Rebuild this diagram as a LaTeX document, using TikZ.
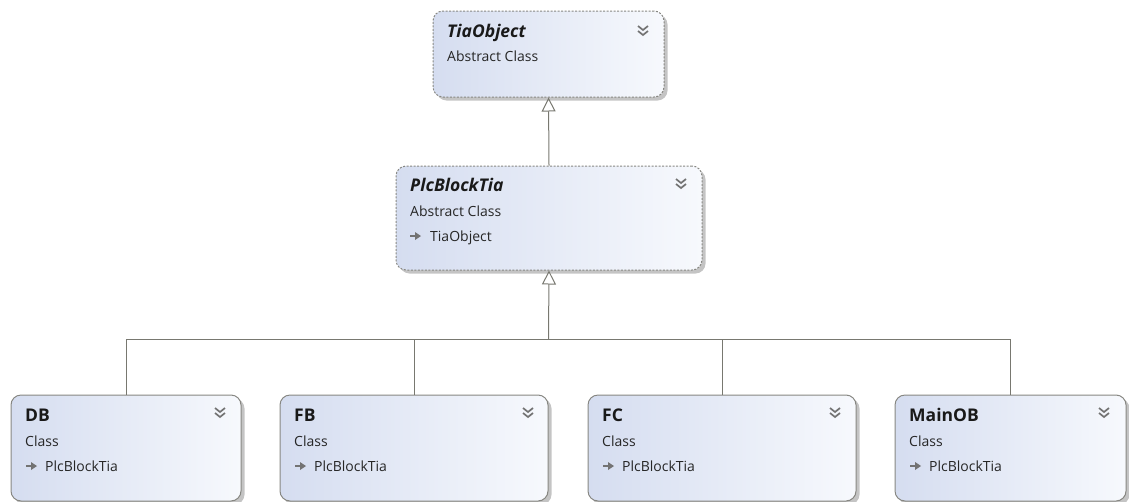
\documentclass[tikz,border=0pt]{standalone}
\usepackage{fontspec}
\setmainfont{Open Sans}
\usetikzlibrary{arrows.meta,shadows}
\definecolor{boxleft}{RGB}{213,221,240}
\definecolor{boxright}{RGB}{247,249,253}
\definecolor{boxline}{RGB}{135,135,130}
\definecolor{conn}{RGB}{120,120,112}
\definecolor{shade}{RGB}{196,196,196}
\definecolor{icon}{RGB}{115,115,115}
\tikzset{
  classbox/.style={draw=boxline, line width=1pt, rounded corners=10pt,
    left color=boxleft, right color=boxright, shading angle=90,
    general shadow={fill=shade, shadow xshift=3.5pt, shadow yshift=-3.5pt},
    minimum width=#1, inner sep=0pt},
  abstractbox/.style={classbox=#1, dash pattern=on 2pt off 1.5pt},
  titletext/.style={anchor=base west, inner sep=0pt, font=\fontsize{17.5}{20}\selectfont\bfseries, text=black!90},
  abstitle/.style={titletext, font=\fontsize{17.5}{20}\selectfont\bfseries\itshape},
  subtext/.style={anchor=base west, inner sep=0pt, font=\fontsize{14}{16}\selectfont, text=black!85},
  inherit/.style={draw=conn, line width=1pt, -{Triangle[open, length=14pt, width=14pt, line width=1pt]}},
  plainconn/.style={draw=conn, line width=1pt},
  chev/.pic={\draw[icon, line width=1.7pt] (-5,-4) -- (0,0) -- (5,-4) (-5,1) -- (0,5) -- (5,1);},
  genarrow/.pic={\fill[icon] (0,-1) rectangle (6.5,1); \fill[icon] (5,-4) -- (11,0) -- (5,4) -- cycle;}
}
\begin{document}
\begin{tikzpicture}[x=1pt,y=-1pt]
\useasboundingbox (0,0) rectangle (1129,501);
% boxes
\node[abstractbox=231pt, minimum height=86pt] (tia) at (548.5,54) {};
\node[abstractbox=306pt, minimum height=104pt] (plc) at (549,218) {};
\node[classbox=230pt, minimum height=106pt] (db) at (126,448) {};
\node[classbox=268pt, minimum height=106pt] (fb) at (414,448) {};
\node[classbox=268pt, minimum height=106pt] (fc) at (722,448) {};
\node[classbox=231pt, minimum height=106pt] (mob) at (1010.5,448) {};
% texts
\node[abstitle] (tiat) at (447,37) {TiaObject};
\node[subtext] (tias) at (447,61) {Abstract Class};
\pic at (643,30) {chev};
\node[abstitle] (plct) at (410,191) {PlcBlockTia};
\node[subtext] (plcs) at (410,216) {Abstract Class};
\pic at (410,236) {genarrow};
\node[subtext] (plcb) at (430,241) {TiaObject};
\pic at (681,183) {chev};
\foreach \n/\t/\x/\cx in {db/DB/25/220, fb/FB/294/528, fc/FC/602/835, mob/MainOB/909/1104}{
  \node[titletext] (\n t) at (\x,421) {\t};
  \node[subtext] (\n s) at (\x,446) {Class};
  \pic at (\x+1,466) {genarrow};
  \node[subtext] (\n b) at (\x+20,471) {PlcBlockTia};
  \pic at (\cx,412) {chev};
}
% connectors
\coordinate (j) at (548.5,339);
\draw[inherit] (plc.north) -- (tia.south);
\draw[plainconn] (db.north) |- (j);
\draw[plainconn] (fb.north) |- (j);
\draw[plainconn] (fc.north) |- (j);
\draw[plainconn] (mob.north) |- (j);
\draw[inherit] (j) -- (plc.south);
\end{tikzpicture}
\end{document}
